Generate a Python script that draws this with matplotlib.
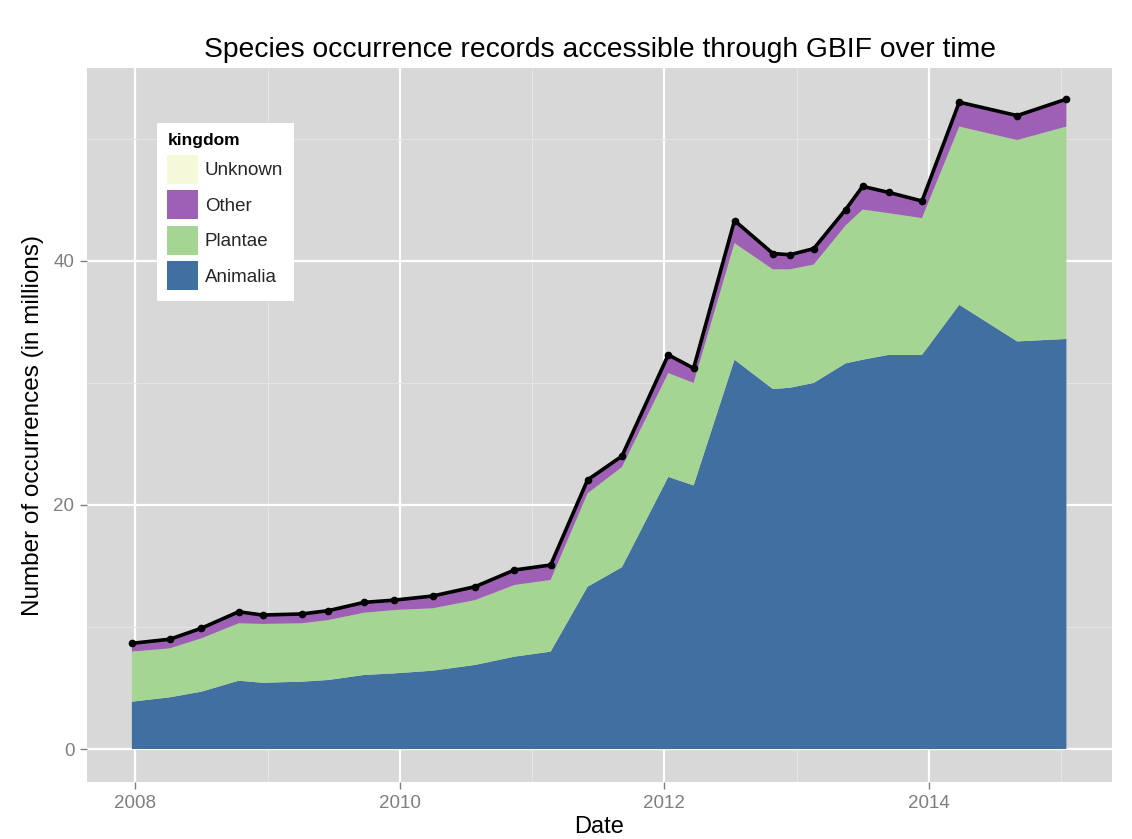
import matplotlib
matplotlib.use("Agg")
import matplotlib.pyplot as plt
import matplotlib.dates as mdates
from matplotlib.patches import Patch
import numpy as np
import pandas as pd

plt.rcParams['font.family'] = ['Liberation Sans', 'DejaVu Sans']

dates = ["2007-12-22", "2008-04-05", "2008-07-01", "2008-10-12", "2008-12-17",
         "2009-04-05", "2009-06-17", "2009-09-24", "2009-12-16", "2010-04-01",
         "2010-07-27", "2010-11-13", "2011-02-21", "2011-06-03", "2011-09-06",
         "2012-01-12", "2012-03-22", "2012-07-13", "2012-10-27", "2012-12-13",
         "2013-02-17", "2013-05-16", "2013-07-02", "2013-09-13", "2013-12-13",
         "2014-03-26", "2014-09-02", "2015-01-16"]

animalia = [3.88, 4.24, 4.70, 5.60, 5.43, 5.52, 5.66, 6.07, 6.20, 6.42,
            6.89, 7.57, 7.98, 13.3, 14.9, 22.3, 21.6, 31.9, 29.5, 29.6,
            30.0, 31.6, 31.9, 32.3, 32.3, 36.4, 33.4, 33.6]
plantae = [4.10, 4.01, 4.37, 4.70, 4.82, 4.78, 4.91, 5.10, 5.19, 5.11,
           5.31, 5.87, 5.87, 7.65, 8.2, 8.5, 8.4, 9.55, 9.8, 9.7,
           9.7, 11.3, 12.3, 11.6, 11.2, 14.6, 16.5, 17.4]
other = [0.63, 0.70, 0.78, 0.90, 0.68, 0.72, 0.72, 0.80, 0.76, 0.96,
         1.05, 1.18, 1.18, 1.05, 0.85, 1.45, 1.15, 1.80, 1.25, 1.15,
         1.25, 1.25, 1.85, 1.65, 1.35, 1.95, 1.95, 2.20]
unknown = [0.05, 0.05, 0.05, 0.05, 0.05, 0.05, 0.05, 0.05, 0.05, 0.05,
           0.05, 0.05, 0.05, 0.05, 0.05, 0.05, 0.05, 0.05, 0.05, 0.05,
           0.05, 0.05, 0.05, 0.05, 0.05, 0.05, 0.05, 0.05]

kingdoms = ["Animalia", "Plantae", "Other", "Unknown"]
colors = {"Animalia": "#4070a0", "Plantae": "#a5d592",
          "Other": "#9e60b4", "Unknown": "#f6f8da"}

x = pd.to_datetime(dates)
series = [animalia, plantae, other, unknown]
total = np.sum(np.array(series), axis=0)

W, H = 1132, 839
fig = plt.figure(figsize=(W / 100, H / 100), dpi=100)
fig.patch.set_facecolor("white")
ax = fig.add_axes([87 / W, 1 - 782 / H, (1112 - 87) / W, (782 - 68) / H])
ax.set_facecolor("#d8d8d8")
for s in ax.spines.values():
    s.set_visible(False)

ax.stackplot(x, *series, colors=[colors[k] for k in kingdoms], linewidth=0, zorder=2)
ax.plot(x, total, color="black", lw=2.6, marker="o", ms=4.5, zorder=3)

ax.set_xlim(pd.Timestamp("2007-08-20"), pd.Timestamp("2015-05-22"))
ax.set_ylim(-2.7, 55.8)

ax.xaxis.set_major_locator(mdates.YearLocator(2))
ax.xaxis.set_major_formatter(mdates.DateFormatter("%Y"))
minor_years = [pd.Timestamp(f"{y}-01-01") for y in (2009, 2011, 2013, 2015)]
ax.set_xticks(minor_years, minor=True)
ax.set_yticks([0, 20, 40])
ax.set_yticks([10, 30, 50], minor=True)

ax.grid(which="major", color="white", lw=1.6, zorder=0)
ax.grid(which="minor", color="#e6e6e6", lw=0.7, zorder=0)
ax.set_axisbelow(True)

ax.tick_params(which="major", length=5, width=1.0, color="#7f7f7f",
               labelcolor="#7f7f7f", labelsize=13.5, pad=4)
ax.tick_params(which="minor", length=0)

ax.set_xlabel("Date", fontsize=17, labelpad=3)
ax.set_ylabel("Number of occurrences (in millions)", fontsize=17.5, labelpad=7)
ax.set_title("Species occurrence records accessible through GBIF over time",
             fontsize=20.3, pad=8)

handles = [Patch(facecolor=colors[k], edgecolor="none", label=k)
           for k in ["Unknown", "Other", "Plantae", "Animalia"]]
leg = ax.legend(handles=handles, title="kingdom", loc="upper left",
                bbox_to_anchor=((157 - 87) / 1025, (782 - 123) / 714),
                borderaxespad=0, frameon=True, fancybox=False, framealpha=1,
                fontsize=13.5, title_fontsize=12.5, handlelength=1.65,
                handleheight=2.0, handletextpad=0.35, labelspacing=0.35,
                borderpad=0.55, alignment="left")
leg.get_frame().set_facecolor("white")
leg.get_frame().set_edgecolor("none")
leg.get_title().set_fontweight("bold")
for t in leg.get_texts():
    t.set_color("#262626")

fig.savefig("out.png", dpi=100)
